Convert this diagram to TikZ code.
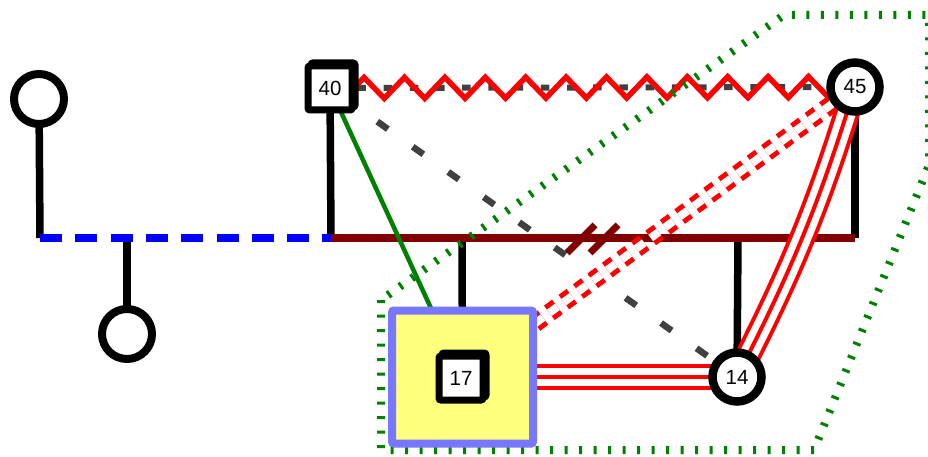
\documentclass[tikz,border=0pt]{standalone}
\usepackage{fontspec}
\setmainfont{Liberation Sans}
\usetikzlibrary{calc,backgrounds,decorations.pathmorphing}
\definecolor{maroonc}{HTML}{800000}
\definecolor{grayc}{HTML}{404040}
\definecolor{greenc}{HTML}{008000}
\definecolor{bluebord}{HTML}{7777FF}
\definecolor{yellowf}{HTML}{FFFF80}
\begin{document}
\begin{tikzpicture}[x=1pt,y=-1pt,
  ring/.style={circle, draw=black, line width=8pt, fill=white, minimum size=50pt, inner sep=0pt},
  numring/.style={circle, draw=black, line width=8.5pt, fill=white, minimum size=49pt, inner sep=0pt, font=\fontsize{20.5}{20.5}\selectfont},
  numsq/.style={rectangle, draw=black, line width=7pt, fill=white, minimum size=44pt, inner sep=0pt, rounded corners=2pt, font=\fontsize{20.5}{20.5}\selectfont},
  sqshadow/.style={rectangle, draw=black, line width=7pt, minimum size=44pt, inner sep=0pt, rounded corners=2pt},
  grpbox/.style={rectangle, draw=bluebord, fill=yellowf, line width=8pt, minimum width=141pt, minimum height=133pt, inner sep=0pt, rounded corners=2pt},
  stem/.style={draw=black, line width=7.5pt},
  busb/.style={draw=blue, line width=8pt, dash pattern=on 22pt off 13.3pt},
  busr/.style={draw=maroonc, line width=8pt},
  slash/.style={draw=maroonc, line width=7pt},
  greenedge/.style={draw=greenc, line width=4.5pt},
  grayh/.style={draw=grayc, line width=6pt, dash pattern=on 8.5pt off 17.7pt, dash phase=25pt},
  grayd/.style={draw=grayc, line width=6.5pt, dash pattern=on 13pt off 30.5pt, dash phase=29pt},
  zig/.style={draw=red, line width=5.5pt, decorate, decoration={zigzag, amplitude=10.5pt, segment length=40.4pt}},
  triple/.style={draw=red, line width=4pt, preaction={draw=red, line width=26pt}, preaction={draw=white, line width=18pt}},
  dd/.style={draw=red, line width=5pt, double=white, double distance=8pt, dash pattern=on 10pt off 8pt},
  grp/.style={draw=greenc, line width=8pt, dash pattern=on 3pt off 11.5pt}
]
\useasboundingbox (0,0) rectangle (928,457);
% nodes
\node[ring] (c1) at (39,99) {};
\node[ring] (c2) at (127,334) {};
\node[sqshadow] (s40) at (333,85) {};
\node[numsq] (n40) at (330,88) {40};
\node[numring] (n45) at (855,87) {45};
\node[numring] (n14) at (737,377) {14};
\node[grpbox] (b17) at (462.5,377) {};
\node[sqshadow] (s17) at (464,375) {};
\node[numsq] (n17) at (461,378) {17};
% junctions
\coordinate (j1) at (40,238);
\coordinate (j2) at (127,238);
\coordinate (j3) at (331,238);
\coordinate (j4) at (462,238);
\coordinate (j5) at (738,238);
\coordinate (j6) at (855,238);
\coordinate (mid) at ($(j3)!0.5!(j6)$);
% group outline corners
\coordinate (gA) at (381,300);
\coordinate (gB) at (381,450);
\coordinate (gC) at (814,450);
\coordinate (gD) at (929,165);
\coordinate (gE) at (929,15);
\coordinate (gF) at (784,15);
\begin{scope}[on background layer]
  % stems
  \draw[stem] (c1.center) -- (j1);
  \draw[stem] (j2) -- (c2.center);
  \draw[stem] (n40.center) -- (j3);
  \draw[stem] (j4) -- (b17.center);
  \draw[stem] (j5) -- (n14.center);
  \draw[stem] (n45.center) -- (j6);
  % buses
  \draw[busb] (j1) -- (j3);
  \draw[busr] (j3) -- (j6);
  \draw[slash] ($(mid)+(-26,15)$) -- ($(mid)+(2,-13)$);
  \draw[slash] ($(mid)+(-3,15)$) -- ($(mid)+(25,-13)$);
  % edges
  \draw[greenedge] (n40.center) -- (b17.center);
  \draw[grayd] (n40.center) -- (n14.center);
  \draw[grayh] (n40.center) -- (n45.center);
  \draw[zig] ($(n40.center)+(24,0)$) -- ($(n45.center)+(-15,0)$);
  \draw[dd] (b17.center) -- (n45.center);
  \draw[triple] (b17.center) -- (n14.center);
  \draw[triple] (n45.center) to[bend left=5] (n14.center);
  % group outline
  \draw[grp] (gA) -- (gB) -- (gC) -- (gD) -- (gE) -- (gF) -- cycle;
\end{scope}
\end{tikzpicture}
\end{document}
